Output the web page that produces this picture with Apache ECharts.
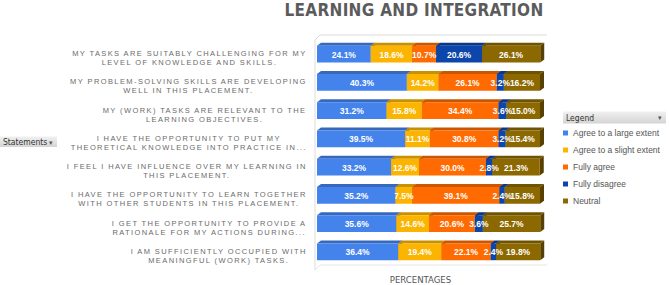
<!DOCTYPE html>
<html>
<head>
<meta charset="utf-8">
<title>Learning and integration</title>
<script src="https://cdn.jsdelivr.net/npm/echarts@6/dist/echarts.min.js"></script>
<style>
  html, body { margin: 0; padding: 0; background: #fff; }
  #chart { width: 669px; height: 285px; }
  /* spaced-out caps, like the original sheet export */
  #chart text[style*="catlab"] { letter-spacing: 1.4px; }
  #chart text[style*="titlab"] { letter-spacing: 0.3px; }
</style>
</head>
<body>
<div id="chart"></div>
<script>
// * Statements, top to bottom
const statements = [
  "MY TASKS ARE SUITABLY CHALLENGING FOR MY\nLEVEL OF KNOWLEDGE AND SKILLS.",
  "MY PROBLEM-SOLVING SKILLS ARE DEVELOPING\nWELL IN THIS PLACEMENT.",
  "MY (WORK) TASKS ARE RELEVANT TO THE\nLEARNING OBJECTIVES.",
  "I HAVE THE OPPORTUNITY TO PUT MY\nTHEORETICAL KNOWLEDGE INTO PRACTICE IN...",
  "I FEEL I HAVE INFLUENCE OVER MY LEARNING IN\nTHIS PLACEMENT.",
  "I HAVE THE OPPORTUNITY TO LEARN TOGETHER\nWITH OTHER STUDENTS IN THIS PLACEMENT.",
  "I GET THE OPPORTUNITY TO PROVIDE A\nRATIONALE FOR MY ACTIONS DURING...",
  "I AM SUFFICIENTLY OCCUPIED WITH\nMEANINGFUL (WORK) TASKS.",
];

// * Percentages per answer, same order as statements
const agreeLarge = [24.1, 40.3, 31.2, 39.5, 33.2, 35.2, 35.6, 36.4];
const agreeSlight = [18.6, 14.2, 15.8, 11.1, 12.6, 7.5, 14.6, 19.4];
const fullyAgree = [10.7, 26.1, 34.4, 30.8, 30.0, 39.1, 20.6, 22.1];
const fullyDisagree = [20.6, 3.2, 3.6, 3.2, 2.8, 2.4, 3.6, 2.4];
const neutral = [26.1, 16.2, 15.0, 15.4, 21.3, 15.8, 25.7, 19.8];

const answers = [
  { name: "Agree to a large extent", values: agreeLarge, color: "#4483ec" },
  { name: "Agree to a slight extent", values: agreeSlight, color: "#fbb400" },
  { name: "Fully agree", values: fullyAgree, color: "#ff6b00" },
  { name: "Fully disagree", values: fullyDisagree, color: "#0d46aa" },
  { name: "Neutral", values: neutral, color: "#8c6800" },
];

const labelFont = "'Liberation Sans', catlab, Arial";
const titleFont = "'Liberation Sans Narrow', 'DejaVu Sans Condensed', titlab, 'Liberation Sans'";
const narrowFont = "'Liberation Sans Narrow', 'DejaVu Sans Condensed', 'Liberation Sans'";
const plainFont = "'Liberation Sans', Arial, sans-serif";

// ! measure text with the same letter spacing the css adds, so alignment holds
const measureCtx = document.createElement("canvas").getContext("2d");
function spacingFor(font) {
  if (!font) return 0;
  if (font.indexOf("catlab") >= 0) return 1.4;
  if (font.indexOf("titlab") >= 0) return 0.3;
  return 0;
}
if (echarts.setPlatformAPI) {
  echarts.setPlatformAPI({
    measureText(text, font) {
      measureCtx.font = font || "12px sans-serif";
      const w = measureCtx.measureText(text).width;
      return { width: w + spacingFor(font) * String(text).length };
    },
  });
}

function shade(hex, k) {
  const n = parseInt(hex.slice(1), 16);
  const r = Math.round(((n >> 16) & 255) * k);
  const g = Math.round(((n >> 8) & 255) * k);
  const b = Math.round((n & 255) * k);
  return "rgb(" + r + "," + g + "," + b + ")";
}

// * 3d-ish bar segment: front face, top face, right side, label
function renderSegment(params, api) {
  const row = api.value(2);
  const from = api.coord([api.value(0), row]);
  const to = api.coord([api.value(1), row]);
  const barH = api.size([0, 1])[1] * 0.59;
  const x0 = from[0];
  const x1 = to[0];
  const y0 = from[1] - barH / 2;
  const dx = 4;
  const dy = 3;
  const color = answers[params.seriesIndex].color;

  return {
    type: "group",
    children: [
      {
        type: "polygon",
        z2: 0,
        shape: { points: [[x1, y0], [x1 + dx, y0 - dy], [x1 + dx, y0 + barH - dy], [x1, y0 + barH]] },
        style: { fill: shade(color, 0.62) },
      },
      {
        type: "polygon",
        z2: 1,
        shape: { points: [[x0, y0], [x0 + dx, y0 - dy], [x1 + dx, y0 - dy], [x1, y0]] },
        style: { fill: shade(color, 0.8) },
      },
      {
        type: "rect",
        z2: 2,
        shape: { x: x0, y: y0, width: x1 - x0, height: barH },
        style: { fill: color },
      },
      {
        type: "text",
        z2: 10,
        style: {
          text: api.value(3).toFixed(1) + "%",
          x: (x0 + x1) / 2,
          y: from[1] + 0.5,
          align: "center",
          verticalAlign: "middle",
          fill: "#fff",
          font: "bold 8.5px " + plainFont,
        },
      },
    ],
  };
}

// * stack the answers per statement
const running = new Array(statements.length).fill(0);
const series = answers.map((a) => {
  const data = a.values.map((v, i) => {
    const item = [running[i], running[i] + v, i, v];
    running[i] += v;
    return item;
  });
  return {
    name: a.name,
    type: "custom",
    renderItem: renderSegment,
    itemStyle: { color: a.color },
    encode: { x: [0, 1], y: 2 },
    data,
  };
});

const myChart = echarts.init(document.getElementById("chart"), null, { renderer: "svg" });

const option = {
  animation: false,
  backgroundColor: "#fff",
  title: {
    text: "LEARNING AND INTEGRATION",
    left: 414,
    top: 1,
    padding: 0,
    textAlign: "center",
    textStyle: { fontSize: 17, fontWeight: "bold", color: "#5b5b5b", fontFamily: titleFont },
  },
  legend: {
    orient: "vertical",
    left: 563,
    top: 128.5,
    padding: 0,
    icon: "rect",
    itemWidth: 5,
    itemHeight: 5,
    itemGap: 8,
    textStyle: { fontSize: 8.5, lineHeight: 9, color: "#555", fontFamily: plainFont },
    data: answers.map((a) => a.name),
  },
  grid: { left: 317, right: 129, top: 40, bottom: 19, outerBoundsMode: "none" },
  xAxis: {
    type: "value",
    min: 0,
    max: 100,
    axisLabel: { show: false },
    axisTick: { show: false },
    axisLine: { show: false },
    splitLine: { show: false },
    name: "PERCENTAGES",
    nameLocation: "middle",
    nameGap: 8,
    nameTextStyle: { fontSize: 9.5, color: "#555", fontFamily: narrowFont, padding: [0, 16, 0, 0] },
  },
  yAxis: {
    type: "category",
    inverse: true,
    data: statements,
    axisLine: { show: false },
    axisTick: { show: false },
    axisLabel: {
      margin: 10,
      padding: [8, 0, 0, 0],
      formatter: (v) => v.split("\n").map((s) => "{c|" + s + "}").join("\n"),
      rich: {
        c: { align: "center", fontSize: 7.5, lineHeight: 9, color: "#6b6b6b", fontFamily: labelFont },
      },
    },
  },
  graphic: [
    // * back wall and floor edges
    {
      type: "polyline",
      silent: true,
      shape: { points: [[315, 270], [315, 40], [320, 35], [547, 35]] },
      style: { stroke: "#dcdcdc", fill: null, lineWidth: 1 },
    },
    {
      type: "polyline",
      silent: true,
      shape: { points: [[315, 270], [320, 265], [547, 265]] },
      style: { stroke: "#e6e6e6", fill: null, lineWidth: 1 },
    },
    // * legend header
    {
      type: "rect",
      silent: true,
      shape: { x: 563, y: 111.5, width: 103, height: 12 },
      style: {
        fill: new echarts.graphic.LinearGradient(0, 0, 0, 1, [
          { offset: 0, color: "#f1f1f1" },
          { offset: 1, color: "#d4d4d4" },
        ]),
      },
    },
    {
      type: "text",
      silent: true,
      style: { text: "Legend", x: 566, y: 117.5, verticalAlign: "middle", fill: "#333", font: "8.5px " + narrowFont },
    },
    {
      type: "text",
      silent: true,
      style: { text: "▾", x: 660, y: 117.5, align: "center", verticalAlign: "middle", fill: "#555", font: "7px " + plainFont },
    },
    // * statements filter button
    {
      type: "rect",
      silent: true,
      shape: { x: 0, y: 136.5, width: 57, height: 10.5 },
      style: {
        fill: new echarts.graphic.LinearGradient(0, 0, 0, 1, [
          { offset: 0, color: "#f1f1f1" },
          { offset: 1, color: "#d4d4d4" },
        ]),
      },
    },
    {
      type: "text",
      silent: true,
      style: { text: "Statements", x: 3, y: 142, verticalAlign: "middle", fill: "#333", font: "8.5px " + narrowFont },
    },
    {
      type: "text",
      silent: true,
      style: { text: "▾", x: 51, y: 142, align: "center", verticalAlign: "middle", fill: "#555", font: "7px " + plainFont },
    },
  ],
  series,
};

myChart.setOption(option);
</script>
</body>
</html>
